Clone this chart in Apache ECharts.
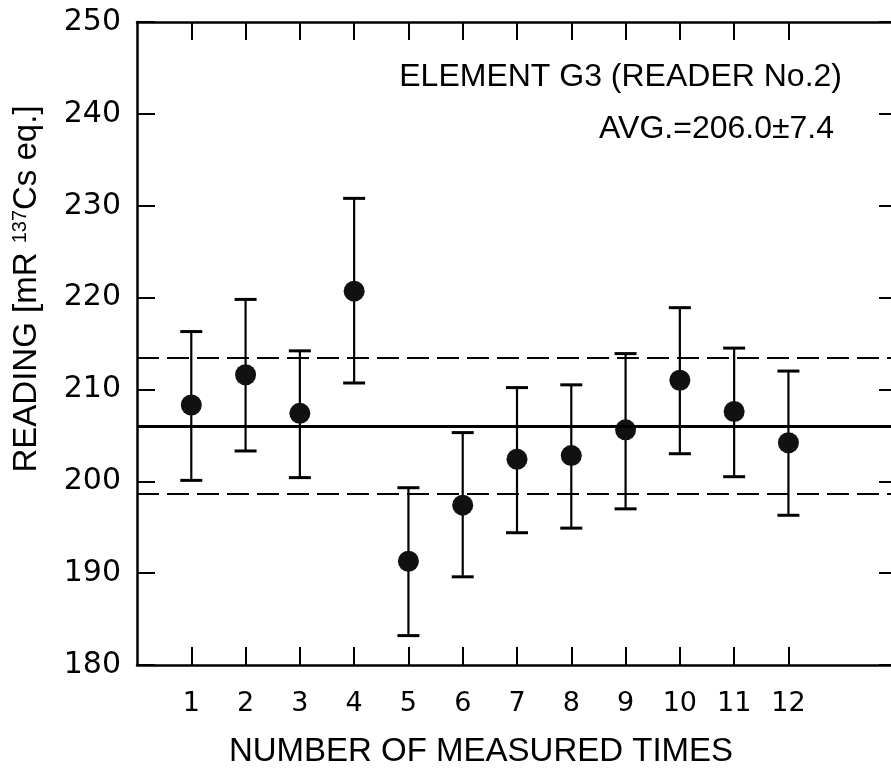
<!DOCTYPE html>
<html>
<head>
<meta charset="utf-8">
<script src="https://cdn.jsdelivr.net/npm/echarts@6/dist/echarts.min.js"></script>
<style>
html,body{margin:0;padding:0;background:#fff;}
#chart{width:891px;height:778px;}
</style>
</head>
<body>
<div id="chart"></div>
<script>
const times = [1, 2, 3, 4, 5, 6, 7, 8, 9, 10, 11, 12];
const readings = [208.3, 211.6, 207.4, 220.7, 191.3, 197.4, 202.4, 202.8, 205.6, 211.0, 207.6, 204.2];
const lows = [200.1, 203.3, 200.4, 210.7, 183.2, 189.6, 194.4, 194.9, 197.0, 203.0, 200.5, 196.3];
const highs = [216.3, 219.8, 214.2, 230.8, 199.3, 205.3, 210.2, 210.5, 213.9, 218.9, 214.5, 212.0];
const avg = 206.0;
const sd = 7.4;
const titleText = 'ELEMENT G3 (READER No.2)';
const avgText = 'AVG.=206.0\u00b17.4';

const FONT = '"Liberation Sans", Arial, Helvetica, sans-serif';
const NUMFONT = '"DejaVu Sans", "Liberation Sans", sans-serif';
const chart = echarts.init(document.getElementById('chart'));

const pts = times.map((t, i) => [t, readings[i]]);
const bars = times.map((t, i) => [t, lows[i], highs[i]]);

const axisLine = {show: true, onZero: false, lineStyle: {color: '#000', width: 2.5}};
const tickStyle = {show: true, inside: true, length: 18, lineStyle: {color: '#000', width: 2}};

chart.setOption({
  animation: false,
  backgroundColor: '#fff',
  grid: {left: 137, top: 22, width: 760, bottom: 113, containLabel: false, outerBoundsMode: 'none'},
  xAxis: [{
    type: 'value', min: 0, max: 14, interval: 1, position: 'bottom',
    axisLine: axisLine,
    axisTick: Object.assign({customValues: times}, tickStyle),
    axisLabel: {customValues: times, color: '#000', fontFamily: NUMFONT, fontSize: 27, margin: 25},
    splitLine: {show: false},
    name: 'NUMBER OF MEASURED TIMES', nameLocation: 'middle', nameGap: 70,
    nameTextStyle: {color: '#000', fontFamily: FONT, fontSize: 33, padding: [0, 72, 0, 0]}
  }, {
    type: 'value', min: 0, max: 14, interval: 1, position: 'top',
    axisLine: axisLine,
    axisTick: Object.assign({customValues: times}, tickStyle),
    axisLabel: {show: false},
    splitLine: {show: false}
  }],
  yAxis: [{
    type: 'value', min: 180, max: 250, interval: 10, position: 'left',
    axisLine: axisLine,
    axisTick: tickStyle,
    axisLabel: {color: '#000', fontFamily: NUMFONT, fontSize: 30, margin: 16},
    splitLine: {show: false}
  }, {
    type: 'value', min: 180, max: 250, interval: 10, position: 'right',
    axisLine: axisLine,
    axisTick: tickStyle,
    axisLabel: {show: false},
    splitLine: {show: false}
  }],
  graphic: [
    {type: 'text', right: 49, top: 61, style: {text: titleText, font: '32px ' + FONT, fill: '#000'}},
    {type: 'text', right: 57, top: 113, style: {text: avgText, font: '32px ' + FONT, fill: '#000'}},
    {type: 'text', x: 27, y: 289, rotation: Math.PI / 2,
      style: {
        text: '{a|READING [mR }{s|137}{a|Cs eq.]}',
        align: 'center', verticalAlign: 'middle', fill: '#000',
        rich: {
          a: {fontFamily: FONT, fontSize: 33, fill: '#000', lineHeight: 34},
          s: {fontFamily: FONT, fontSize: 20, fill: '#000', verticalAlign: 'top', lineHeight: 34}
        }
      }}
  ],
  series: [{
    type: 'custom',
    name: 'errors',
    data: bars,
    renderItem: function (params, api) {
      const x = api.value(0);
      const top = api.coord([x, api.value(2)]);
      const bot = api.coord([x, api.value(1)]);
      const hw = 11;
      return {type: 'group', children: [
        {type: 'line', shape: {x1: top[0], y1: top[1], x2: bot[0], y2: bot[1]}, style: {stroke: '#000', lineWidth: 2.2}},
        {type: 'line', shape: {x1: top[0] - hw, y1: top[1], x2: top[0] + hw, y2: top[1]}, style: {stroke: '#000', lineWidth: 3}},
        {type: 'line', shape: {x1: bot[0] - hw, y1: bot[1], x2: bot[0] + hw, y2: bot[1]}, style: {stroke: '#000', lineWidth: 3}}
      ]};
    },
    z: 2
  }, {
    type: 'scatter',
    name: 'reading',
    data: pts,
    symbol: 'circle',
    symbolSize: 21,
    itemStyle: {color: '#111', opacity: 1},
    z: 4,
    markLine: {
      silent: true, symbol: 'none', label: {show: false},
      data: [
        {yAxis: avg, lineStyle: {color: '#000', width: 3, type: 'solid', opacity: 1}},
        {yAxis: +(avg + sd).toFixed(1), lineStyle: {color: '#000', width: 2, type: [22, 8], opacity: 1}},
        {yAxis: +(avg - sd).toFixed(1), lineStyle: {color: '#000', width: 2, type: [22, 8], opacity: 1}}
      ]
    }
  }]
});
</script>
</body>
</html>
